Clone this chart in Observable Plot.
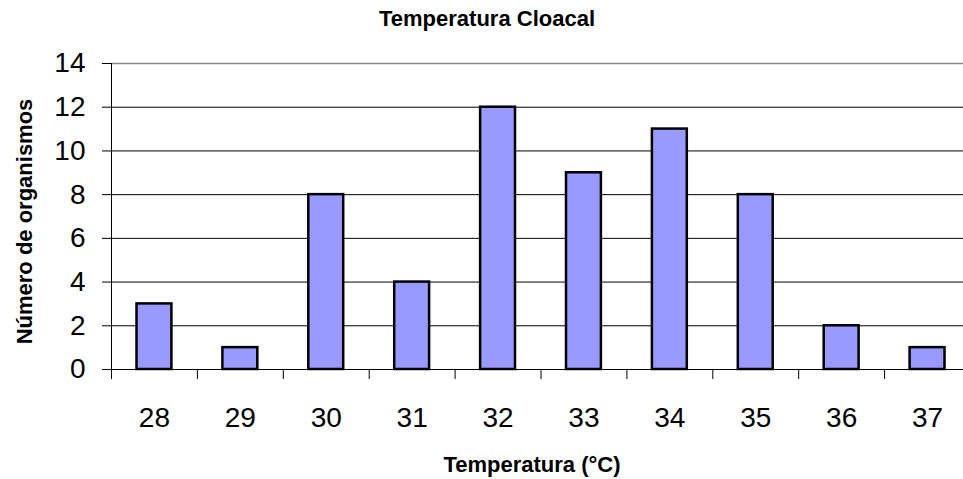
<!DOCTYPE html>
<html><head><meta charset="utf-8">
<script src="https://cdn.jsdelivr.net/npm/d3@7"></script>
<script src="https://cdn.jsdelivr.net/npm/@observablehq/plot@0.6"></script>
<style>body{margin:0;background:#fff;overflow:hidden}</style>
</head><body><div id="chart"></div>
<script>
const temperatures = [28, 29, 30, 31, 32, 33, 34, 35, 36, 37];
const counts = [3, 1, 8, 4, 12, 9, 11, 8, 2, 1];
const yTicks = [0, 2, 4, 6, 8, 10, 12, 14];
const titleText = "Temperatura Cloacal";
const xLabelText = "Temperatura (°C)";
const yLabelText = "Número de organismos";

const data = temperatures.map((t, i) => ({t, n: counts[i]}));
const boundaries = temperatures.map(t => t - 0.5);
const font = "Arial, 'Liberation Sans', sans-serif";

const chart = Plot.plot({
  width: 963,
  height: 479,
  marginLeft: 111,
  marginRight: -7,
  marginTop: 63,
  marginBottom: 110,
  style: {fontFamily: font, background: "#fff", color: "#000", overflow: "visible"},
  x: {domain: [temperatures[0] - 0.5, temperatures[temperatures.length - 1] + 0.5]},
  y: {domain: [0, 14]},
  marks: [
    Plot.ruleY(yTicks.slice(0, -1), {stroke: "#000", strokeWidth: 1}),
    Plot.ruleY(yTicks.slice(-1), {stroke: "#888", strokeWidth: 1.5}),
    Plot.axisY(yTicks, {tickSize: 9, tickPadding: 17, fontSize: 28, label: null, stroke: "#000"}),
    Plot.axisX(temperatures, {tickSize: 0, tickPadding: 38, fontSize: 28, label: null}),
    Plot.axisX(boundaries, {tickSize: 10, tickFormat: () => "", label: null, stroke: "#000"}),
    Plot.rectY(data, {x1: d => d.t - 0.5, x2: d => d.t + 0.5, y: "n", insetLeft: 25.5, insetRight: 25.5,
      fill: "#9999FF", stroke: "#000", strokeWidth: 2.5}),
    Plot.ruleX([temperatures[0] - 0.5], {stroke: "#000"}),
    Plot.text([titleText], {frameAnchor: "top", dx: -54, dy: -45, fontSize: 22, fontWeight: "bold", lineAnchor: "middle", textAnchor: "middle"}),
    Plot.text([xLabelText], {frameAnchor: "bottom", dx: -9, dy: 95, fontSize: 22, fontWeight: "bold", lineAnchor: "middle", textAnchor: "middle"}),
    Plot.text([yLabelText], {frameAnchor: "left", dx: -87, dy: 5, rotate: -90, fontSize: 22, fontWeight: "bold", lineAnchor: "middle", textAnchor: "middle"})
  ]
});
document.getElementById("chart").append(chart);
</script>
</body></html>
